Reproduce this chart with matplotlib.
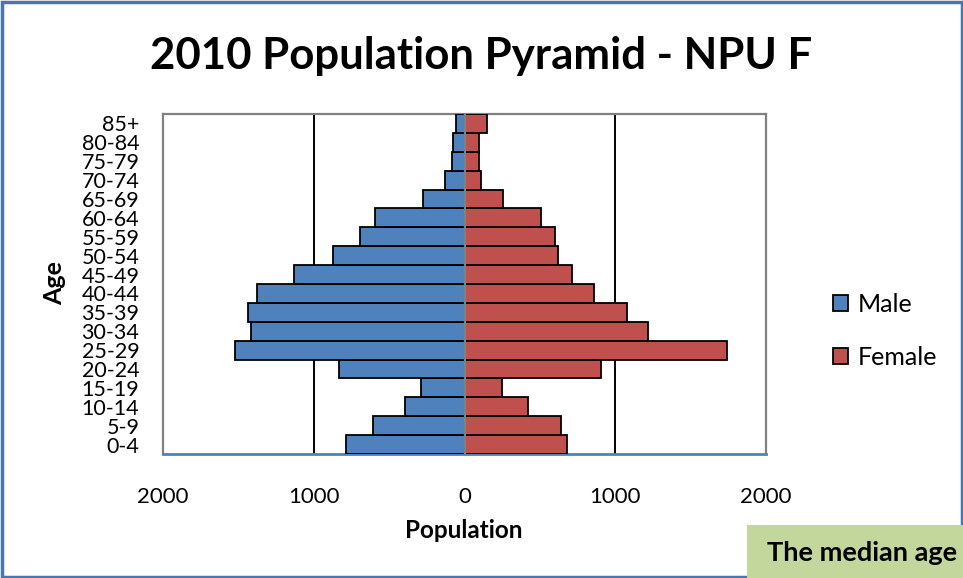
import matplotlib
matplotlib.use("Agg")
import matplotlib.pyplot as plt
from matplotlib.patches import Rectangle, Patch
from matplotlib.ticker import FuncFormatter

age_groups = ["0-4", "5-9", "10-14", "15-19", "20-24", "25-29", "30-34", "35-39",
              "40-44", "45-49", "50-54", "55-59", "60-64", "65-69", "70-74",
              "75-79", "80-84", "85+"]
male = [785, 607, 395, 287, 834, 1523, 1419, 1437, 1375, 1134, 874, 691, 596,
        278, 132, 81, 73, 55]
female = [678, 640, 419, 247, 905, 1740, 1214, 1081, 856, 715, 618, 600, 508,
          256, 108, 99, 95, 146]
xticks = [-2000, -1000, 0, 1000, 2000]

W, H = 963, 578
FONT = "Lato"
plt.rcParams['font.family'] = [FONT, 'DejaVu Sans']

fig = plt.figure(figsize=(W / 100, H / 100), dpi=100)

def fx(px):
    return px / W

def fy(py):
    return 1 - py / H

ax = fig.add_axes([fx(163), fy(454), fx(766) - fx(163), fy(114) - fy(454)])

pos = list(range(len(age_groups)))
ax.barh(pos, [-v for v in male], height=1.0, color="#4F81BD", edgecolor="black",
        linewidth=1.3, label="Male", zorder=3)
ax.barh(pos, female, height=1.0, color="#C0504D", edgecolor="black",
        linewidth=1.3, label="Female", zorder=3)

ax.set_xlim(-2000, 2000)
ax.set_ylim(-0.5, len(age_groups) - 0.5)
ax.set_xticks(xticks)
ax.xaxis.set_major_formatter(FuncFormatter(lambda v, p: f"{abs(int(v))}"))
ax.set_yticks(pos)
ax.set_yticklabels(age_groups)
ax.tick_params(axis="both", length=0)
ax.tick_params(axis="x", labelsize=16, pad=24)
ax.tick_params(axis="y", labelsize=15.5, pad=17)

for g in (-1000, 1000):
    ax.axvline(g, color="black", linewidth=1.4, zorder=1)
ax.axvline(0, color="#808080", linewidth=1.6, zorder=4)

for s in ("left", "top", "right"):
    ax.spines[s].set_color("#808080")
    ax.spines[s].set_linewidth(1.6)
ax.spines["bottom"].set_color("#4F81BD")
ax.spines["bottom"].set_linewidth(2.0)

# title
fig.text(fx(481), fy(56), "2010 Population Pyramid - NPU F", ha="center",
         va="center", fontsize=31.5, fontweight="bold")

fig.text(fx(464), fy(530), "Population", ha="center", va="center",
         fontsize=17.5, fontweight="bold")
fig.text(fx(55), fy(283), "Age", ha="center", va="center", rotation=90,
         fontsize=18, fontweight="bold")

handles = [Patch(facecolor="#4F81BD", edgecolor="black", linewidth=1.3),
           Patch(facecolor="#C0504D", edgecolor="black", linewidth=1.3)]
fig.legend(handles, ["Male", "Female"], loc="center left",
           bbox_to_anchor=(fx(823), fy(331)), frameon=False, fontsize=18,
           handlelength=0.6, handleheight=0.6, handletextpad=0.4,
           labelspacing=1.2, borderaxespad=0)

# outer frame
fig.patches.append(Rectangle((fx(2), fy(577)), fx(960), fy(2) - fy(577),
                             transform=fig.transFigure, fill=False,
                             edgecolor="#4A76AD", linewidth=2.5))

# green text box
fig.patches.append(Rectangle((fx(747), fy(578)), fx(230), fy(525) - fy(578),
                             transform=fig.transFigure, facecolor="#C3D69B",
                             edgecolor="none", zorder=5))
fig.text(fx(767), fy(553), "The median age", ha="left", va="center",
         fontsize=19.5, fontweight="bold", zorder=6)

fig.savefig("out.png", dpi=100)
